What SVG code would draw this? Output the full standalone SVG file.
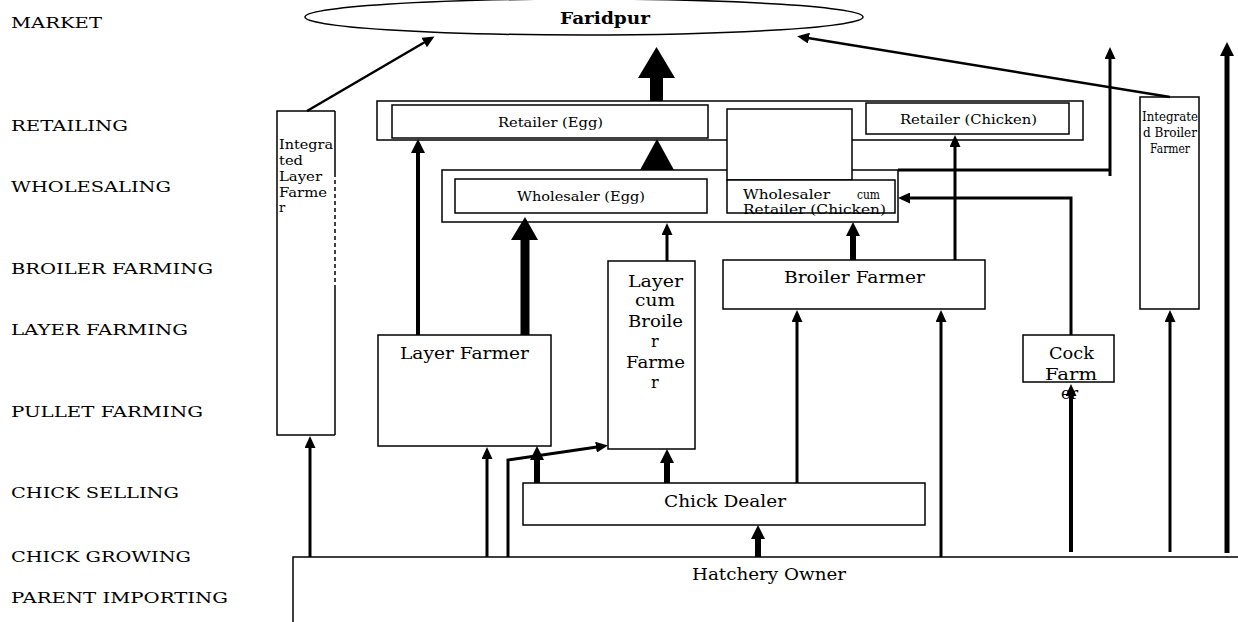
<svg xmlns="http://www.w3.org/2000/svg" width="1238" height="622" viewBox="0 0 1238 622">
<style>
text{font-family:"DejaVu Serif","Liberation Serif",serif;fill:#000}
.lab{font-size:15px}
.n{font-size:16px}
.s{font-size:12.5px}
.box{fill:#fff;stroke:#000;stroke-width:1.5}
.c{fill:none;stroke:#000;stroke-width:3}
.c4{fill:none;stroke:#000;stroke-width:4}
.c6{fill:none;stroke:#000;stroke-width:6}
.c2{fill:none;stroke:#000;stroke-width:2.5}
</style>
<defs>
<marker id="h1" markerUnits="userSpaceOnUse" markerWidth="12" markerHeight="11" refX="1" refY="5.5" orient="auto">
<path d="M0,0 L12,5.5 L0,11 z" fill="#000"/>
</marker>
<marker id="h2" markerUnits="userSpaceOnUse" markerWidth="14" markerHeight="14" refX="1" refY="7" orient="auto">
<path d="M0,0 L14,7 L0,14 z" fill="#000"/>
</marker>
</defs>

<g id="labels">
<text class="lab" x="11" y="28" textLength="91" lengthAdjust="spacingAndGlyphs">MARKET</text>
<text class="lab" x="11" y="131" textLength="117" lengthAdjust="spacingAndGlyphs">RETAILING</text>
<text class="lab" x="11" y="192" textLength="160" lengthAdjust="spacingAndGlyphs">WHOLESALING</text>
<text class="lab" x="11" y="274" textLength="202" lengthAdjust="spacingAndGlyphs">BROILER FARMING</text>
<text class="lab" x="11" y="335" textLength="177" lengthAdjust="spacingAndGlyphs">LAYER FARMING</text>
<text class="lab" x="11" y="417" textLength="192" lengthAdjust="spacingAndGlyphs">PULLET FARMING</text>
<text class="lab" x="11" y="498" textLength="168" lengthAdjust="spacingAndGlyphs">CHICK SELLING</text>
<text class="lab" x="11" y="562" textLength="180" lengthAdjust="spacingAndGlyphs">CHICK GROWING</text>
<text class="lab" x="11" y="603" textLength="217" lengthAdjust="spacingAndGlyphs">PARENT IMPORTING</text>
</g>

<g id="market">
<ellipse cx="584" cy="17" rx="279" ry="18" fill="#fff" stroke="#000" stroke-width="1.5"/>
<text x="560" y="24" font-size="16" font-weight="bold" textLength="90" lengthAdjust="spacingAndGlyphs">Faridpur</text>
</g>

<g id="retailing">
<rect class="box" x="377" y="101" width="706" height="39"/>
</g>
<g id="wholesaling">
<rect class="box" x="442" y="170" width="456" height="52"/>
</g>
<g id="blank-box">
<rect class="box" x="727" y="109" width="125" height="71"/>
</g>

<g id="retailer-egg">
<rect class="box" x="392" y="105" width="316" height="33"/>
<text class="s" x="498" y="127" textLength="105" lengthAdjust="spacingAndGlyphs">Retailer (Egg)</text>
</g>
<g id="retailer-chicken">
<rect class="box" x="866" y="103" width="203" height="31"/>
<text class="s" x="900" y="124" textLength="137" lengthAdjust="spacingAndGlyphs">Retailer (Chicken)</text>
</g>
<g id="wholesaler-egg">
<rect class="box" x="455" y="179" width="252" height="34"/>
<text class="s" x="517" y="201" textLength="128" lengthAdjust="spacingAndGlyphs">Wholesaler (Egg)</text>
</g>
<g id="wholesaler-cum-retailer">
<rect class="box" x="727" y="180" width="168" height="33"/>
<text class="s" x="743" y="199" textLength="87" lengthAdjust="spacingAndGlyphs">Wholesaler</text>
<text class="s" x="857" y="199" textLength="23" lengthAdjust="spacingAndGlyphs">cum</text>
<text class="s" x="743" y="214" textLength="143" lengthAdjust="spacingAndGlyphs">Retailer (Chicken)</text>
</g>

<g id="integrated-layer-farmer">
<path d="M335,111 H277 V435 H335" fill="#fff" stroke="#000" stroke-width="1.5"/>
<path d="M335,111 V173 M335,287 V435" fill="none" stroke="#000" stroke-width="1.5"/>
<path d="M335,173 V287" fill="none" stroke="#000" stroke-width="1.5" stroke-dasharray="4,3"/>
<text x="279" y="149" font-size="13" textLength="54" lengthAdjust="spacingAndGlyphs">Integra</text>
<text x="279" y="165" font-size="13" textLength="24" lengthAdjust="spacingAndGlyphs">ted</text>
<text x="279" y="181" font-size="13" textLength="43" lengthAdjust="spacingAndGlyphs">Layer</text>
<text x="279" y="197" font-size="13" textLength="48" lengthAdjust="spacingAndGlyphs">Farme</text>
<text x="279" y="212" font-size="13">r</text>
</g>

<g id="integrated-broiler-farmer">
<rect class="box" x="1140" y="97" width="59" height="212"/>
<text x="1142" y="121" font-size="12.5" textLength="56" lengthAdjust="spacingAndGlyphs">Integrate</text>
<text x="1143" y="137" font-size="12.5" textLength="54" lengthAdjust="spacingAndGlyphs">d Broiler</text>
<text x="1150" y="153" font-size="12.5" textLength="40" lengthAdjust="spacingAndGlyphs">Farmer</text>
</g>

<g id="layer-farmer">
<rect class="box" x="378" y="335" width="173" height="111"/>
<text class="n" x="400" y="359" textLength="129" lengthAdjust="spacingAndGlyphs">Layer Farmer</text>
</g>

<g id="layer-cum-broiler-farmer">
<rect class="box" x="608" y="261" width="87" height="188"/>
<text class="n" x="628" y="287" textLength="55" lengthAdjust="spacingAndGlyphs">Layer</text>
<text class="n" x="635" y="306" textLength="40" lengthAdjust="spacingAndGlyphs">cum</text>
<text class="n" x="628" y="327" textLength="55" lengthAdjust="spacingAndGlyphs">Broile</text>
<text class="n" x="651" y="347">r</text>
<text class="n" x="626" y="368" textLength="59" lengthAdjust="spacingAndGlyphs">Farme</text>
<text class="n" x="651" y="388">r</text>
</g>

<g id="broiler-farmer">
<rect class="box" x="723" y="260" width="262" height="49"/>
<text class="n" x="784" y="283" textLength="141" lengthAdjust="spacingAndGlyphs">Broiler Farmer</text>
</g>

<g id="cock-farmer">
<rect class="box" x="1023" y="335" width="91" height="47"/>
<text class="n" x="1049" y="359" textLength="45" lengthAdjust="spacingAndGlyphs">Cock</text>
<text class="n" x="1045" y="380" textLength="52" lengthAdjust="spacingAndGlyphs">Farm</text>
<text class="n" x="1061" y="399">er</text>
</g>

<g id="chick-dealer">
<rect class="box" x="523" y="483" width="402" height="42"/>
<text class="n" x="664" y="507" textLength="122" lengthAdjust="spacingAndGlyphs">Chick Dealer</text>
</g>

<g id="hatchery-owner">
<rect class="box" x="293" y="557" width="960" height="80"/>
<text class="n" x="692" y="580" textLength="154" lengthAdjust="spacingAndGlyphs">Hatchery Owner</text>
</g>

<g id="connectors">
<line class="c2" x1="307" y1="111" x2="425" y2="42" marker-end="url(#h1)"/>
<line class="c2" x1="1170" y1="97" x2="808" y2="38" marker-end="url(#h1)"/>
<polygon points="650,101 663,101 663,78 675,78 656.5,47 638,78 650,78" fill="#000"/>
<polygon points="640,170 674,170 657,139" fill="#000"/>
<path class="c" d="M898,170 H1110"/>
<line class="c" x1="1110" y1="176" x2="1110" y2="58" marker-end="url(#h1)"/>
<line x1="1227" y1="553" x2="1227" y2="55" stroke="#000" stroke-width="5" marker-end="url(#h2)"/>
<line class="c" x1="1170" y1="552" x2="1170" y2="321" marker-end="url(#h1)"/>
<line class="c4" x1="1071" y1="552" x2="1071" y2="395" marker-end="url(#h1)"/>
<path class="c" d="M1071,335 V198 H909" marker-end="url(#h1)"/>
<line class="c" x1="941" y1="557" x2="941" y2="321" marker-end="url(#h1)"/>
<line class="c" x1="955" y1="260" x2="955" y2="146" marker-end="url(#h1)"/>
<line class="c6" x1="853" y1="260" x2="853" y2="235" marker-end="url(#h2)"/>
<line class="c" x1="797" y1="483" x2="797" y2="321" marker-end="url(#h1)"/>
<line class="c6" x1="758" y1="557" x2="758" y2="538" marker-end="url(#h2)"/>
<line class="c6" x1="667" y1="483" x2="667" y2="462" marker-end="url(#h2)"/>
<line class="c6" x1="537" y1="483" x2="537" y2="459" marker-end="url(#h2)"/>
<line class="c" x1="667" y1="261" x2="667" y2="234" marker-end="url(#h1)"/>
<path class="c" d="M508,557 V460 L597,447" marker-end="url(#h1)"/>
<line class="c" x1="487" y1="557" x2="487" y2="458" marker-end="url(#h1)"/>
<line class="c4" x1="418" y1="335" x2="418" y2="152" marker-end="url(#h2)"/>
<polygon points="520.5,335 529.5,335 529.5,240 538,240 525,217 511,240 520.5,240" fill="#000"/>
<line class="c" x1="310" y1="557" x2="310" y2="447" marker-end="url(#h1)"/>
</g>
</svg>
